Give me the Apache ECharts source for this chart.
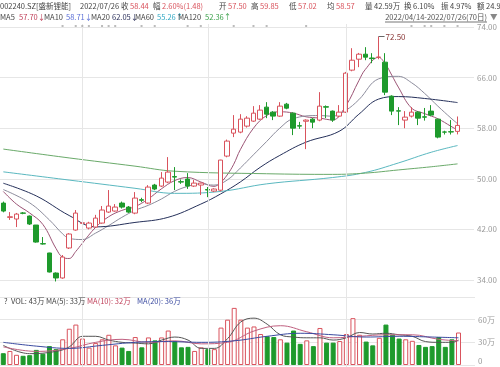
<!DOCTYPE html>
<html><head><meta charset="utf-8">
<script src="https://cdn.jsdelivr.net/npm/echarts@6/dist/echarts.min.js"></script>
<style>html,body{margin:0;padding:0;background:#fff}#c{width:500px;height:367px}</style>
</head><body><div id="c"></div>
<script>
const dates = ['2022/04/14','2022/04/15','2022/04/18','2022/04/19','2022/04/20','2022/04/21','2022/04/22','2022/04/25','2022/04/26','2022/04/27','2022/04/28','2022/04/29',
'2022/05/05','2022/05/06','2022/05/09','2022/05/10','2022/05/11','2022/05/12','2022/05/13','2022/05/16','2022/05/17','2022/05/18','2022/05/19','2022/05/20','2022/05/23','2022/05/24','2022/05/25','2022/05/26','2022/05/27','2022/05/30','2022/05/31',
'2022/06/01','2022/06/02','2022/06/06','2022/06/07','2022/06/08','2022/06/09','2022/06/10','2022/06/13','2022/06/14','2022/06/15','2022/06/16','2022/06/17','2022/06/20','2022/06/21','2022/06/22','2022/06/23','2022/06/24','2022/06/27','2022/06/28','2022/06/29','2022/06/30',
'2022/07/01','2022/07/04','2022/07/05','2022/07/06','2022/07/07','2022/07/08','2022/07/11','2022/07/12','2022/07/13','2022/07/14','2022/07/15','2022/07/18','2022/07/19','2022/07/20','2022/07/21','2022/07/22','2022/07/25','2022/07/26'];
const open  = [46.16,43.90,43.64,44.60,44.11,42.69,39.75,38.27,35.10,34.32,39.06,41.90,42.95,42.21,42.37,43.00,44.74,44.90,46.16,45.53,44.58,46.70,46.16,49.01,48.85,49.48,50.35,49.55,49.96,48.85,49.01,48.30,48.06,48.20,53.59,57.22,57.38,58.33,59.12,59.43,61.33,60.54,59.91,61.80,60.38,58.40,59.10,59.43,59.28,61.40,60.70,59.91,60.54,67.18,68.91,69.70,69.10,69.20,68.44,63.07,60.75,59.28,59.91,60.54,59.80,60.70,59.43,57.40,57.45,57.50];
const close = [44.90,44.00,44.42,44.55,42.85,40.00,39.69,35.26,34.32,37.63,41.27,44.58,43.05,43.00,43.79,45.06,45.69,45.53,45.53,44.74,46.95,46.60,48.69,48.38,50.11,51.06,50.27,49.48,48.85,49.32,49.32,48.22,48.38,52.96,55.96,57.85,59.43,59.59,60.38,60.86,60.22,59.91,61.49,61.17,58.01,58.33,59.28,58.96,61.49,61.33,59.28,60.54,66.70,68.75,69.70,69.23,69.00,69.25,63.70,60.70,60.70,59.75,60.54,59.59,59.75,60.07,56.59,57.38,57.40,58.44];
const low   = [44.70,43.50,42.37,44.40,42.70,39.90,39.60,35.20,33.77,34.20,38.90,41.80,42.21,42.00,42.30,42.90,44.60,44.80,45.30,44.60,44.40,46.30,46.00,48.20,48.70,49.30,48.22,49.20,48.40,48.70,47.43,47.10,47.90,48.00,53.40,56.59,57.20,58.10,59.00,59.30,59.59,59.28,59.80,61.00,56.91,57.90,54.69,58.00,59.10,59.60,59.00,59.70,60.40,67.00,67.65,68.75,68.28,68.90,63.23,60.07,58.49,57.99,59.70,58.49,59.20,59.90,56.40,57.00,57.00,57.02];
const high  = [46.40,44.74,44.60,44.75,44.20,42.70,40.79,38.30,35.20,37.95,41.40,45.06,44.27,43.20,44.30,45.70,48.22,46.00,46.40,45.70,47.90,47.00,49.00,49.20,51.06,53.43,51.85,49.90,50.90,49.80,49.40,48.70,48.50,53.00,56.20,60.07,60.22,59.90,61.49,61.65,62.12,60.70,62.12,62.00,60.50,59.00,59.40,59.60,63.70,61.60,60.80,61.65,66.90,70.65,69.90,70.81,69.86,72.50,69.86,63.20,61.33,60.70,61.33,60.70,61.20,61.65,59.50,57.60,59.28,59.85];
const volume = [15.6,18.6,13.5,12.2,13,20,15,25,21,34,48,53.5,35,23,29,34,40,26,23,18.6,37,23.4,36.5,32.6,36.5,45.6,31.7,23.4,24,18.6,23.4,21,21,49.5,60,75.6,60,49.5,51,41,38,37,34,29.6,45.6,28,32.6,25,49,29.6,29.6,31.7,41,62,40,31,26,36,53.5,40,35,34,32,26.5,24,25,37,24,34,43];
// moving-average lines: [day index, value]
const ma5  = [[0,48],[2,46],[4,44.6],[6,42.8],[8,39],[9,37.6],[10,37.4],[11,38.5],[12,39.8],[14,42.3],[16,44],[18,45],[20,45.6],[22,46.8],[24,48.4],[26,49.7],[28,50.2],[30,49.5],[32,48.8],[33,49.4],[34,50.6],[35,52.3],[36,54.6],[38,58],[40,60],[42,60.6],[44,60.4],[46,59.8],[48,59.6],[50,59.3],[52,61.5],[54,65.5],[55,67.3],[57,69.2],[58,68.2],[59,66.4],[60,64.5],[62,61.2],[64,60.3],[66,59.5],[68,58.3],[69,57.7]];
const ma10 = [[0,48.3],[4,46.2],[7,43.5],[9,41.3],[10,40.6],[12,40.4],[14,41.4],[16,42.6],[18,43.9],[20,45],[22,45.8],[24,46.8],[26,48],[28,48.8],[30,49.2],[32,49],[34,49.8],[36,51.7],[38,53.8],[40,55.9],[42,58],[44,59.5],[48,60],[50,59.9],[52,60.8],[54,62.5],[57,65.8],[60,66.2],[62,65.2],[64,63.5],[66,61.5],[68,59.6],[69,58.71]];
const ma20 = [[0,49.3],[5,47.3],[10,44.2],[14,42.4],[20,43.1],[25,43.9],[30,46],[33,47.6],[36,49.5],[39,51.8],[42,53.7],[46,55.8],[51,57.5],[54,60.2],[57,62.6],[60,63.0],[64,62.7],[69,62.05]];
const ma60 = [[0,51.1],[10,49.8],[20,48.5],[26,47.7],[33,48],[40,49.2],[50,50.2],[55,51],[60,52.5],[65,54.2],[69,55.26]];
const ma120= [[0,54.7],[10,53.3],[20,52],[26,51.2],[40,50.8],[50,50.7],[55,50.9],[60,51.4],[65,51.9],[69,52.36]];
const vma5  = [[0,26],[4,15],[8,18],[10,24],[12,38],[14,38],[16,33],[18,30],[20,29],[22,28],[24,33],[26,37],[28,33],[30,22],[32,22],[34,35],[36,57],[38,62],[40,54],[42,40],[44,37],[46,36],[48,36],[50,33],[52,36],[54,43],[56,41],[58,42],[60,40],[62,38],[64,31],[66,30],[68,30],[69,33]];
const vma10 = [[0,24],[5,18],[10,22],[14,30],[18,34],[22,30],[26,32],[30,28],[34,30],[38,45],[42,52],[46,44],[50,36],[54,38],[58,40],[62,40],[66,34],[69,32]];
const vma20 = [[0,30],[5,25],[10,22],[15,26],[20,30],[25,31],[30,30],[35,32],[40,38],[45,42],[50,40],[55,37],[60,38],[65,37],[69,36]];
const eventDays = [9,11,12,13,15,16,17,21,23,28,30,35,38,40,46,62,64,65,67,69];
const monthStarts = ['2022/05/05','2022/06/01','2022/07/01'];
const priceMin = 34, priceMax = 74, priceStep = 8;
const volMax = 90, volStep = 30;

const RED = '#d9535d', GREEN = '#1e9a2c';
const FONT = '"Noto Sans CJK SC", "Microsoft YaHei", sans-serif';
const chart = echarts.init(document.getElementById('c'), null, {renderer: 'canvas'});

const candles = dates.map((d, i) => [open[i], close[i], low[i], high[i]]);
const volBars = volume.map((v, i) => ({
  value: v,
  itemStyle: close[i] >= open[i]
    ? {color: '#fff', borderColor: RED, borderWidth: 1}
    : {color: GREEN, borderColor: GREEN, borderWidth: 1}
}));

function txt(x, y, text, fill, align, size) {
  return {type: 'text', x: x, y: y, silent: true, z: 100,
    style: {text: text, fill: fill, font: (size || 7.5) + 'px ' + FONT, verticalAlign: 'middle', align: align || 'left'}};
}
const DK = '#444';
const graphics = [
  txt(0, 6, '002240.SZ[盛新锂能]', DK), txt(80, 6, '2022/07/26', DK),
  txt(121, 6, '收', DK), txt(130, 6, '58.44', RED),
  txt(153, 6, '幅', DK), txt(162, 6, '2.60%(1.48)', RED),
  txt(219, 6, '开', DK), txt(228, 6, '57.50', RED),
  txt(251, 6, '高', DK), txt(260, 6, '59.85', RED),
  txt(289, 6, '低', DK), txt(298, 6, '57.02', RED),
  txt(327, 6, '均', DK), txt(336, 6, '58.57', RED),
  txt(365, 6, '量', DK), txt(374, 6, '42.59万', DK),
  txt(404, 6, '换', DK), txt(413, 6, '6.10%', DK),
  txt(441, 6, '振', DK), txt(450, 6, '4.97%', DK),
  txt(477, 6, '额', DK), txt(486, 6, '24.94亿', DK),
  txt(0, 17, 'MA5', DK), txt(19, 17, '57.70↓', '#c0405a'),
  txt(44, 17, 'MA10', DK), txt(66, 17, '58.71↓', '#5b6fd6'),
  txt(91, 17, 'MA20', DK), txt(112, 17, '62.05↓', '#2a2f5a'),
  txt(135, 17, 'MA60', DK), txt(157, 17, '55.26↑', '#34a9c4'),
  txt(178, 17, 'MA120', DK), txt(205, 17, '52.36↑', '#3aa04a'),
  txt(487, 17, '2022/04/14-2022/07/26(70日)', '#555', 'right'),
  {type: 'line', silent: true, z: 100, shape: {x1: 385, y1: 22, x2: 487, y2: 22}, style: {stroke: '#777', lineWidth: 1}},
  txt(490, 17, '▼', '#888'),
  txt(4, 301, '?', DK), txt(11, 301, 'VOL: 43万', DK), txt(46, 301, 'MA(5): 33万', DK),
  txt(87, 301, 'MA(10): 32万', '#c0405a'), txt(137, 301, 'MA(20): 36万', '#3a4aa0'),
  txt(478, 361, '0', '#9a9a9a', 'left', 8)
];

function maSeries(name, pts, color, xi, yi) {
  return {name: name, type: 'line', data: pts, xAxisIndex: xi, yAxisIndex: yi, symbol: 'none',
    smooth: 0.4, lineStyle: {width: 1, color: color}, silent: true, z: 3};
}

chart.setOption({
  animation: false,
  backgroundColor: '#fff',
  grid: [
    {left: 0, right: 25, top: 27, height: 253},
    {left: 0, right: 25, top: 297, bottom: 2},
    {left: 0, right: 25, top: 24, bottom: 0}
  ],
  xAxis: [0, 1, 2].map(g => ({
    type: 'category', data: dates, gridIndex: g, max: 71, boundaryGap: true,
    axisLine: {show: false}, axisTick: {show: false}, axisLabel: {show: false}, splitLine: {show: false}
  })),
  yAxis: [
    {gridIndex: 0, position: 'right', min: priceMin, max: priceMax, interval: priceStep,
      axisLine: {show: false}, axisTick: {show: false},
      axisLabel: {color: '#9a9a9a', fontSize: 8, margin: 3, fontFamily: FONT, formatter: v => v.toFixed(2)},
      splitLine: {lineStyle: {color: '#e6e6e6', width: 1}}},
    {gridIndex: 1, position: 'right', min: 0, max: volMax, interval: volStep,
      axisLine: {show: false}, axisTick: {show: false},
      axisLabel: {color: '#9a9a9a', fontSize: 8, margin: 3, fontFamily: FONT,
        formatter: v => (v === 0 || v === volMax) ? '' : v + '万'},
      splitLine: {lineStyle: {color: '#e6e6e6', width: 1}}},
    {gridIndex: 2, show: false, min: 0, max: 1}
  ],
  graphic: graphics,
  series: [
    {type: 'line', xAxisIndex: 2, yAxisIndex: 2, data: [], silent: true, z: 0,
      markLine: {silent: true, symbol: ['none', 'none'], label: {show: false},
        lineStyle: {color: '#e6e6e6', type: 'solid', width: 1},
        data: monthStarts.map(d => ({xAxis: d}))}},
    {type: 'scatter', xAxisIndex: 0, yAxisIndex: 0, silent: true, z: 5,
      data: eventDays.map(i => [i, priceMax]), symbol: 'rect', symbolSize: 2, symbolOffset: [0, -1],
      itemStyle: {color: '#aaa'}},
    {type: 'candlestick', name: 'K', data: candles, xAxisIndex: 0, yAxisIndex: 0, barWidth: 5, z: 4,
      itemStyle: {color: '#fff', color0: GREEN, borderColor: RED, borderColor0: GREEN, borderWidth: 1},
      markPoint: {symbol: 'rect', silent: true, animation: false,
        data: [
          {coord: [57, 72.5], symbolSize: [6, 1], symbolOffset: [3, 0], itemStyle: {color: '#666'},
            label: {show: true, formatter: '72.50', position: 'right', distance: 1, color: '#8b3a3a', fontSize: 8, fontFamily: FONT}},
          {coord: [8, 33.77], symbolSize: [7, 1], symbolOffset: [4, 0], itemStyle: {color: '#666'},
            label: {show: true, formatter: '33.77', position: 'right', distance: 1, color: '#2f6f4f', fontSize: 8, fontFamily: FONT}}
        ]}},
    maSeries('MA5', ma5, '#9c5576', 0, 0),
    maSeries('MA10', ma10, '#8c8c9c', 0, 0),
    maSeries('MA20', ma20, '#25305a', 0, 0),
    maSeries('MA60', ma60, '#5ab8c0', 0, 0),
    maSeries('MA120', ma120, '#6aaa6a', 0, 0),
    {type: 'bar', name: 'VOL', data: volBars, xAxisIndex: 1, yAxisIndex: 1, barWidth: 5, z: 2},
    maSeries('VMA5', vma5, '#555555', 1, 1),
    maSeries('VMA10', vma10, '#c06080', 1, 1),
    maSeries('VMA20', vma20, '#3a4aa0', 1, 1)
  ]
});
</script></body></html>
